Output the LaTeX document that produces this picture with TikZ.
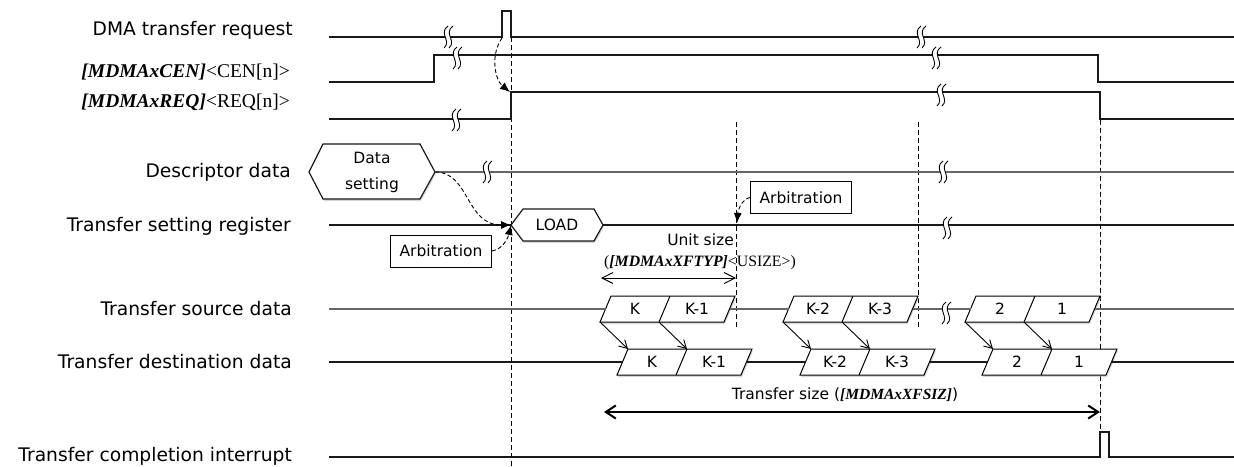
\documentclass[tikz,border=0pt]{standalone}
\usepackage{fontspec}
\setmainfont{DejaVu Sans}
\newfontfamily\tms{Liberation Serif}
\usetikzlibrary{arrows.meta,shadows}

% wavy "time break" mark centred at (#1,#2)
\newcommand\cutmark[2]{%
  \fill[white] ({#1+1},{#2-11}) .. controls ({#1-9},{#2-4}) and ({#1+5},{#2+4}) .. ({#1-3},{#2+11})
     -- ({#1+2},{#2+11}) .. controls ({#1+10},{#2+4}) and ({#1-4},{#2-4}) .. ({#1+6},{#2-11}) -- cycle;
  \draw[brk] ({#1+1},{#2-11}) .. controls ({#1-9},{#2-4}) and ({#1+5},{#2+4}) .. ({#1-3},{#2+11});
  \draw[brk] ({#1+6},{#2-11}) .. controls ({#1-4},{#2-4}) and ({#1+10},{#2+4}) .. ({#1+2},{#2+11});
}

% two slanted data cells: #1 name, #2 x of lower-left corner, #3 centre y, #4/#5 cell texts
\newcommand\datapair[5]{%
  \coordinate (#1-bl) at ({#2},{#3+13});
  \coordinate (#1-mb) at ({#2+59},{#3+13});
  \coordinate (#1-tl) at ({#2+11},{#3-13});
  \coordinate (#1-mt) at ({#2+70},{#3-13});
  \coordinate (#1-w) at ({#2+5.5},{#3});
  \coordinate (#1-e) at ({#2+129.5},{#3});
  \draw[cell] (#1-bl) -- ({#2+124},{#3+13}) -- ({#2+135},{#3-13}) -- (#1-tl) -- cycle;
  \draw[divider] (#1-mb) -- (#1-mt);
  \node[celltext] (#1a) at ({#2+35},{#3}) {#4};
  \node[celltext] (#1b) at ({#2+97},{#3}) {#5};
}

\begin{document}
\begin{tikzpicture}[x=1pt,y=-1pt,
  font=\fontsize{15.5}{18}\selectfont,
  sig/.style={draw=black!90, line width=1.2pt},
  bus/.style={draw=black!60, line width=1.8pt},
  brk/.style={draw=black, line width=0.9pt},
  guide/.style={draw=black, line width=0.9pt, dash pattern=on 5pt off 3pt},
  hint/.style={draw=black, line width=0.9pt, dash pattern=on 4pt off 2.5pt, -{Latex[length=10pt,width=8pt]}},
  lbl/.style={anchor=east, inner sep=0pt, font=\fontsize{18.7}{22}\selectfont},
  tlbl/.style={anchor=east, inner sep=0pt, font=\fontsize{19.5}{22}\selectfont\tms},
  tag/.style={draw=black, line width=1pt, fill=white, inner sep=0pt, minimum width=101pt, minimum height=32pt},
  soft/.style={drop shadow={shadow xshift=1pt, shadow yshift=-2pt, fill=black!30}},
  cell/.style={draw=black, line width=1pt, fill=white, soft},
  divider/.style={draw=black, line width=1pt},
  celltext/.style={inner sep=0pt},
  move/.style={draw=black, line width=0.9pt, -{Straight Barb[length=8pt,width=9pt]}},
  span/.style={draw=black, line width=0.9pt, {Straight Barb[length=11pt,width=11pt]}-{Straight Barb[length=11pt,width=11pt]}},
  bigspan/.style={draw=black, line width=2pt, {Straight Barb[length=10pt,width=13pt]}-{Straight Barb[length=10pt,width=13pt]}}
]
\useasboundingbox (0,0) rectangle (1234,466);

% signal names
\node[lbl]  (nreq)  at (293,30)  {DMA transfer request};
\node[tlbl] (ncen)  at (290,72)  {{\bfseries\itshape [MDMAxCEN]}<CEN[n]>};
\node[tlbl] (nreqn) at (290,102) {{\bfseries\itshape [MDMAxREQ]}<REQ[n]>};
\node[lbl]  (ndesc) at (291,172) {Descriptor data};
\node[lbl]  (nset)  at (291,226) {Transfer setting register};
\node[lbl]  (nsrc)  at (292,309) {Transfer source data};
\node[lbl]  (ndst)  at (292,362) {Transfer destination data};
\node[lbl]  (nirq)  at (292,456) {Transfer completion interrupt};

% timing guides
\draw[guide] (511,37) -- (511,466);
\draw[guide] (736,122) -- (736,328);
\draw[guide] (918,122) -- (918,328);
\draw[guide] (1100,120) -- (1100,432);

% control signals
\draw[sig] (329,37) -- (502,37) |- (511,11) |- (1234,37);
\draw[sig] (329,82) -- (434,82) |- (1098,55) |- (1234,82);
\draw[sig] (329,119) -- (511,119) |- (1100,92) |- (1234,119);
\cutmark{447}{37}  \cutmark{920}{37}
\cutmark{456}{58}  \cutmark{935}{58}
\cutmark{455}{120} \cutmark{940}{95}

% descriptor data
\draw[sig, fill=white, soft] (309,172) -- (323,144) -- (420,144) -- (435,172) -- (420,199) -- (323,199) -- cycle;
\coordinate (dset-e) at (435,172);
\node[align=center, inner sep=0pt, font=\fontsize{15.5}{26}\selectfont] (dset) at (372,172) {Data\\setting};
\draw[bus] (dset-e) -- (1234,172);
\cutmark{486}{172} \cutmark{942}{172}

% transfer setting register
\coordinate (load-w) at (511,225);
\coordinate (load-e) at (603,225);
\draw[sig] (329,225) -- (load-w);
\draw[sig, fill=white, soft] (load-w) -- (523,209) -- (594,209) -- (load-e) -- (594,241) -- (523,241) -- cycle;
\node[inner sep=0pt] (load) at (557,225) {LOAD};
\draw[sig] (load-e) -- (1234,225);
\cutmark{946}{228}

\node[tag] (arbA) at (441,251) {Arbitration};
\node[tag] (arbB) at (801,197.5) {Arbitration};
\coordinate (unitend) at (737,223);

% cause-and-effect hints
\coordinate (pulse-foot) at (502,38);
\coordinate (req-rise) at (510,92);
\draw[hint] (pulse-foot) .. controls (490,55) and (495,80) .. (req-rise);
\draw[hint] (dset-e) .. controls (470,172) and (465,225) .. (load-w);
\draw[hint] (arbA.east) .. controls (503,249) and (508,238) .. (load-w);
\draw[hint] (arbB.west) .. controls (742,199) and (738,210) .. (unitend);

% unit size
\node[anchor=east, inner sep=0pt] (usz) at (734,240) {Unit size};
\node[inner sep=0pt, font=\fontsize{15.8}{18}\selectfont\tms] (uszreg) at (700,263) {({\bfseries\itshape [MDMAxXFTYP]}<USIZE>)};
\coordinate (u1) at (601,278);
\coordinate (u2) at (736,278);
\draw[span] (u1) -- (u2);

% source and destination data
\datapair{s1}{600}{309}{K}{K-1}
\datapair{s2}{783}{309}{K-2}{K-3}
\datapair{s3}{965}{309}{2}{1}
\datapair{d1}{617}{362}{K}{K-1}
\datapair{d2}{800}{362}{K-2}{K-3}
\datapair{d3}{982}{362}{2}{1}

\draw[bus] (329,309) -- (s1-w);
\draw[bus] (s1-e) -- (s2-w);
\draw[bus] (s2-e) -- (s3-w);
\draw[bus] (s3-e) -- (1234,309);
\cutmark{945}{313}
\draw[sig] (329,362) -- (d1-w);
\draw[sig] (d1-e) -- (d2-w);
\draw[sig] (d2-e) -- (d3-w);
\draw[sig] (d3-e) -- (1234,362);

\foreach \p in {1,2,3}{
  \draw[move] (s\p-bl) -- (d\p-tl);
  \draw[move] (s\p-mb) -- (d\p-mt);
}

% transfer size
\node[inner sep=0pt] (tsz) at (845,395) {Transfer size ({\tms\bfseries\itshape [MDMAxXFSIZ]})};
\coordinate (t1) at (604,412);
\coordinate (t2) at (1100,412);
\draw[bigspan] (t1) -- (t2);

% transfer completion interrupt
\draw[sig] (329,457) -- (1100,457) |- (1109,432) |- (1234,457);
\end{tikzpicture}
\end{document}
